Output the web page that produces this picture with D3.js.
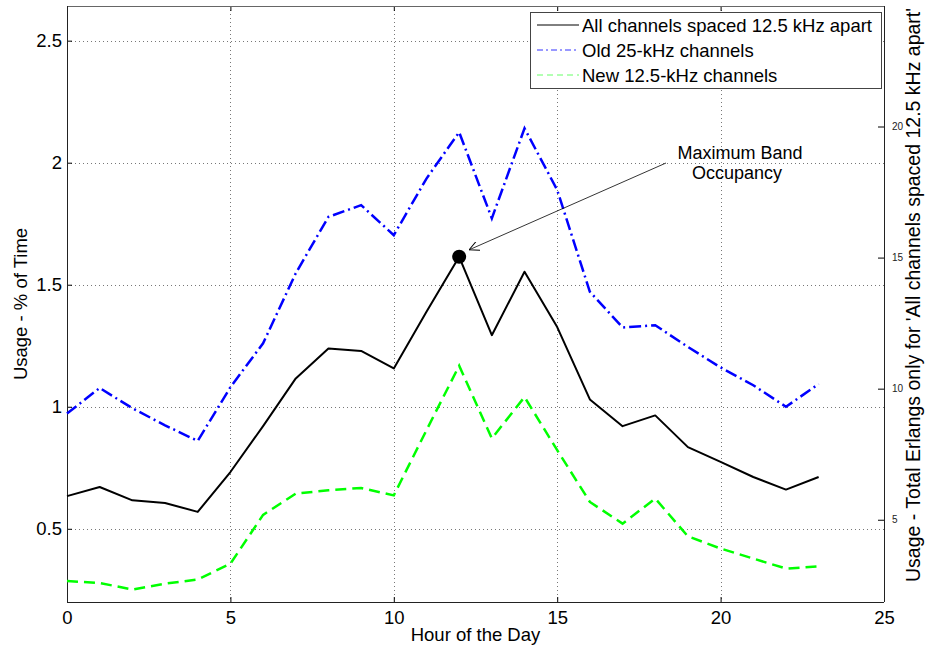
<!DOCTYPE html>
<html>
<head>
<meta charset="utf-8">
<script src="https://cdn.jsdelivr.net/npm/d3@7"></script>
<style>
  body { margin: 0; background: #fff; }
  svg { display: block; font-family: "Liberation Sans", Arial, sans-serif; }
</style>
</head>
<body>
<svg id="chart" width="930" height="651"></svg>
<script>
// heures de la journee
const hours = d3.range(0, 24)

// Erlangs totaux, tous les canaux espaces de 12.5 kHz (axe de droite)
const allChannels = [5.90, 6.25, 5.74, 5.64, 5.30, 6.82, 8.57, 10.39, 11.53, 11.44, 10.77, 12.93,
    15.03, 12.04, 14.46, 12.35, 9.59, 8.57, 8.98, 7.77, 7.21, 6.63, 6.15, 6.63]

// anciens canaux 25 kHz (% du temps)
const oldChannels = [0.972, 1.077, 0.994, 0.924, 0.860, 1.080, 1.26, 1.547, 1.778, 1.826, 1.703, 1.935,
    2.125, 1.772, 2.141, 1.888, 1.471, 1.325, 1.334, 1.245, 1.161, 1.088, 1.000, 1.093]

// nouveaux canaux 12.5 kHz (% du temps)
const newChannels = [0.286, 0.278, 0.251, 0.275, 0.292, 0.357, 0.557, 0.644, 0.658, 0.667, 0.637, 0.904,
    1.168, 0.870, 1.040, 0.822, 0.610, 0.521, 0.624, 0.469, 0.419, 0.378, 0.337, 0.346]

const xTicks = [0, 5, 10, 15, 20, 25]
const yTicks = [0.5, 1, 1.5, 2, 2.5]
const y2Ticks = [5, 10, 15, 20]
const legendLabels = ['All channels spaced 12.5 kHz apart', 'Old 25-kHz channels', 'New 12.5-kHz channels']

const ERLANG_RATIO = 9.31
const yDomain = [0.2, 2.642]

const svg = d3.select('#chart')
const M_LEFT = 67, M_RIGHT = 884, M_TOP = 6, M_BOTTOM = 602
const POLICE = 'Liberation Sans, Arial'
const TAILLE = 18.5

const x = d3.scaleLinear().domain([0, 25]).range([M_LEFT, M_RIGHT])
const y = d3.scaleLinear().domain(yDomain).range([M_BOTTOM, M_TOP])
const y2 = d3.scaleLinear().domain(yDomain.map(v => v * ERLANG_RATIO)).range([M_BOTTOM, M_TOP])

//Grille pointillee
const grid = svg.append('g').attr('stroke', '#777').attr('stroke-width', 1).attr('stroke-dasharray', '1,3')
grid.selectAll('.gx').data(xTicks.slice(1, -1)).join('line')
    .attr('x1', d => Math.round(x(d)) + 0.5).attr('x2', d => Math.round(x(d)) + 0.5)
    .attr('y1', M_TOP).attr('y2', M_BOTTOM)
grid.selectAll('.gy').data(yTicks).join('line')
    .attr('x1', M_LEFT).attr('x2', M_RIGHT)
    .attr('y1', d => Math.round(y(d)) + 0.5).attr('y2', d => Math.round(y(d)) + 0.5)

//Axes (ticks vers l'interieur comme matlab)
svg.append('g').attr('transform', `translate(0,${M_BOTTOM})`)
    .call(d3.axisBottom(x).tickValues(xTicks).tickSize(-5).tickPadding(9).tickFormat(d3.format('d')))
    .call(g => g.select('.domain').remove())
    .call(g => g.selectAll('text').attr('font-size', TAILLE).attr('fill', '#000').attr('font-family', POLICE))
svg.append('g').attr('transform', `translate(0,${M_TOP})`)
    .call(d3.axisTop(x).tickValues(xTicks.slice(1, -1)).tickSize(-5).tickFormat(''))
    .call(g => g.select('.domain').remove())
svg.append('g').attr('transform', `translate(${M_LEFT},0)`)
    .call(d3.axisLeft(y).tickValues(yTicks).tickSize(-5).tickPadding(5).tickFormat(d => d))
    .call(g => g.select('.domain').remove())
    .call(g => g.selectAll('text').attr('font-size', TAILLE).attr('fill', '#000').attr('font-family', POLICE))
svg.append('g').attr('transform', `translate(${M_RIGHT},0)`)
    .call(d3.axisRight(y2).tickValues(y2Ticks).tickSize(-6).tickPadding(2))
    .call(g => g.select('.domain').remove())
    .call(g => g.selectAll('text').attr('font-size', 10).attr('fill', '#222').attr('font-family', POLICE).attr('dx', 6))

//Cadre
svg.append('line').attr('x1', M_LEFT).attr('x2', M_RIGHT).attr('y1', M_TOP + 0.5).attr('y2', M_TOP + 0.5).attr('stroke', '#666')
svg.append('line').attr('x1', M_LEFT).attr('x2', M_RIGHT).attr('y1', M_BOTTOM + 0.5).attr('y2', M_BOTTOM + 0.5).attr('stroke', '#222')
svg.append('line').attr('x1', M_LEFT + 0.5).attr('x2', M_LEFT + 0.5).attr('y1', M_TOP).attr('y2', M_BOTTOM).attr('stroke', '#222')
svg.append('line').attr('x1', M_RIGHT + 0.5).attr('x2', M_RIGHT + 0.5).attr('y1', M_TOP).attr('y2', M_BOTTOM).attr('stroke', '#222')

//Courbes
const lineLeft = d3.line().x((d, i) => x(hours[i])).y(d => y(d))
const lineRight = d3.line().x((d, i) => x(hours[i])).y(d => y2(d))

svg.append('path').datum(newChannels).attr('d', lineLeft).attr('fill', 'none')
    .attr('stroke', '#00ff00').attr('stroke-width', 2.5).attr('stroke-dasharray', '11,6')
svg.append('path').datum(oldChannels).attr('d', lineLeft).attr('fill', 'none')
    .attr('stroke', '#0000ff').attr('stroke-width', 2.5).attr('stroke-dasharray', '12,4,2,4')
svg.append('path').datum(allChannels).attr('d', lineRight).attr('fill', 'none')
    .attr('stroke', '#000').attr('stroke-width', 2).attr('stroke-linejoin', 'round')

//Point maximum
const iMax = d3.maxIndex(allChannels)
svg.append('circle').attr('cx', x(hours[iMax])).attr('cy', y2(allChannels[iMax])).attr('r', 7).attr('fill', '#000')

//Annotation avec fleche
svg.append('defs').append('marker').attr('id', 'arrow').attr('viewBox', '0 0 10 10').attr('refX', 10).attr('refY', 5)
    .attr('markerWidth', 10).attr('markerHeight', 10).attr('markerUnits', 'userSpaceOnUse').attr('orient', 'auto')
    .append('path').attr('d', 'M0,0 L10,5 L0,10').attr('fill', 'none').attr('stroke', '#000').attr('stroke-width', 1)
svg.append('line').attr('x1', 666).attr('y1', 163)
    .attr('x2', x(hours[iMax]) + 10).attr('y2', y2(allChannels[iMax]) - 7)
    .attr('stroke', '#000').attr('stroke-width', 0.8).attr('marker-end', 'url(#arrow)')
const note = svg.append('text').attr('text-anchor', 'middle').attr('font-size', 18).attr('fill', '#000')
note.append('tspan').attr('x', 740).attr('y', 159).text('Maximum Band')
note.append('tspan').attr('x', 737).attr('y', 179).text('Occupancy')

//Legende
const legend = svg.append('g').attr('transform', 'translate(530,12)')
legend.append('rect').attr('x', 0.5).attr('y', 0.5).attr('width', 351).attr('height', 76).attr('fill', '#fff').attr('stroke', '#444')
const legendStyles = [
    { color: '#000', dash: null },
    { color: '#3333ff', dash: '6,3,2,3' },
    { color: '#66ff66', dash: '6,4' }
]
legendLabels.forEach((label, i) => {
    const row = legend.append('g').attr('transform', `translate(0,${13 + i * 25})`)
    row.append('line').attr('x1', 7).attr('x2', 49).attr('y1', 0).attr('y2', 0)
        .attr('stroke', legendStyles[i].color).attr('stroke-width', 1).attr('stroke-dasharray', legendStyles[i].dash)
    row.append('text').attr('x', 52).attr('y', 6.5).attr('font-size', 18.5).attr('fill', '#000').text(label)
})

//Titres des axes
svg.append('text').attr('x', (M_LEFT + M_RIGHT) / 2).attr('y', 641).attr('text-anchor', 'middle').attr('font-size', TAILLE).text('Hour of the Day')
svg.append('text').attr('transform', `translate(27,${(M_TOP + M_BOTTOM) / 2}) rotate(-90)`).attr('text-anchor', 'middle')
    .attr('font-size', TAILLE).text('Usage - % of Time')
svg.append('text').attr('transform', `translate(920,295) rotate(-90)`).attr('text-anchor', 'middle')
    .attr('font-size', 19.5).text("Usage - Total Erlangs only for 'All channels spaced 12.5 kHz apart'")
</script>
</body>
</html>
